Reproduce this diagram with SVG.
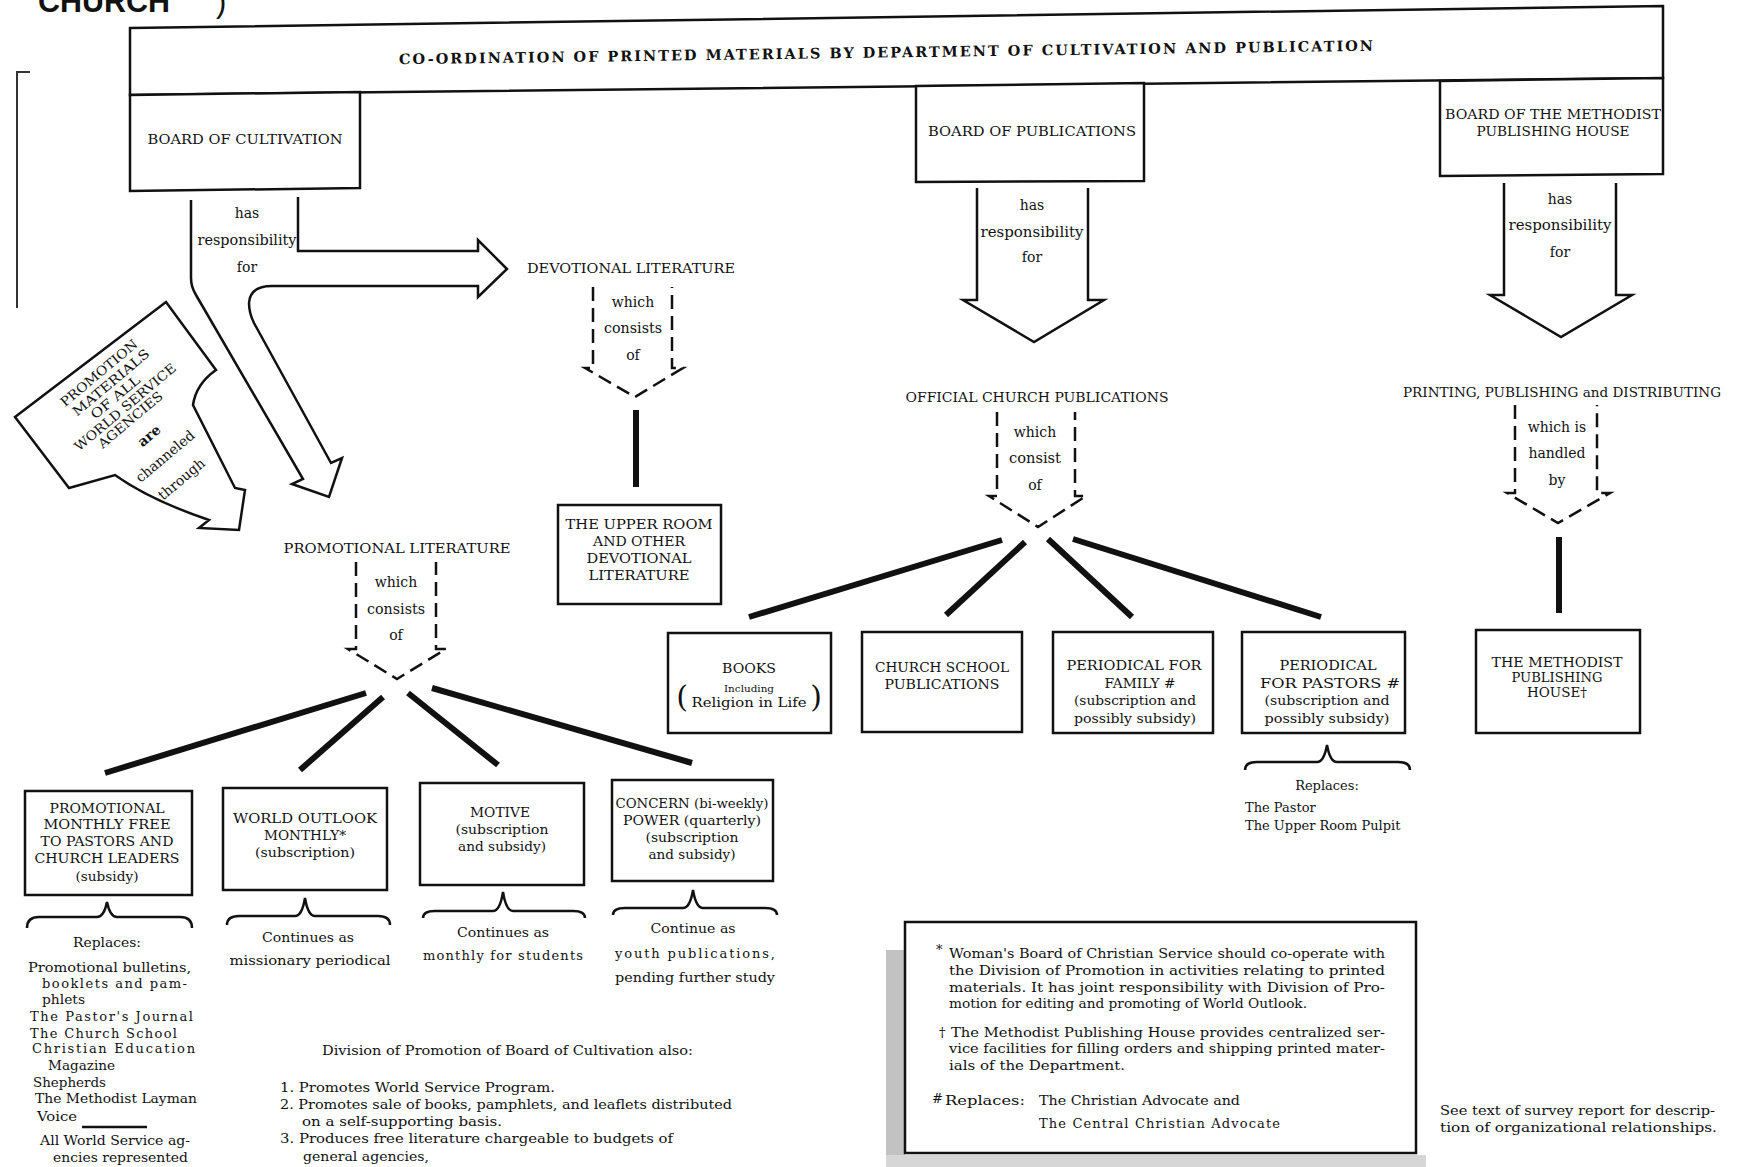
<svg xmlns="http://www.w3.org/2000/svg" width="1739" height="1167" viewBox="0 0 1739 1167">
<style>
text{font-family:"DejaVu Serif","Liberation Serif",serif;fill:#111;dominant-baseline:central}
.c{text-anchor:middle}
.cap{font-size:13px}
.lab{font-size:14px}
.txt{font-size:13px}
.box{fill:#fff;stroke:#111;stroke-width:2.5}
.ln{fill:none;stroke:#111;stroke-width:2.5;stroke-linejoin:miter}
.dash{fill:none;stroke:#111;stroke-width:2.5;stroke-dasharray:14 7}
.thick{stroke:#111;stroke-width:6}
.brace{fill:none;stroke:#111;stroke-width:2.5}
</style>
<rect width="1739" height="1167" fill="#fff"/>

<!-- cut-off heading -->
<g id="heading">
<text x="38" y="1" font-weight="bold" font-size="31" textLength="132" lengthAdjust="spacingAndGlyphs" style="font-family:'Liberation Sans',sans-serif">CHURCH</text>
<text x="216" y="1" font-size="31" style="font-family:'Liberation Sans',sans-serif">)</text>
</g>

<!-- left bracket -->
<path d="M30,72 L17,72 L17,308" fill="none" stroke="#333" stroke-width="2"/>

<!-- banner -->
<g id="banner">
<polygon class="box" points="130,28 1663,6 1663,78 130,95"/>
<text x="886" y="52" class="c" font-weight="bold" font-size="14.5" textLength="974" lengthAdjust="spacing" transform="rotate(-0.8 886 52)">CO-ORDINATION OF PRINTED MATERIALS BY DEPARTMENT OF CULTIVATION AND PUBLICATION</text>
</g>

<g id="board-cultivation">
<polygon class="box" points="130,95 360,92 360,188 130,191"/>
<text x="245" y="139" class="c cap" textLength="195" lengthAdjust="spacingAndGlyphs">BOARD OF CULTIVATION</text>
</g>
<g id="board-publications">
<polygon class="box" points="916,86 1144,83 1144,181 916,182"/>
<text x="1032" y="131" class="c cap" textLength="208" lengthAdjust="spacingAndGlyphs">BOARD OF PUBLICATIONS</text>
</g>
<g id="board-mph">
<polygon class="box" points="1440,81 1663,78 1663,174 1440,176"/>
<text x="1553" y="114" class="c cap" textLength="216" lengthAdjust="spacingAndGlyphs">BOARD OF THE METHODIST</text>
<text x="1553" y="131" class="c cap" textLength="153" lengthAdjust="spacingAndGlyphs">PUBLISHING HOUSE</text>
</g>

<!-- promotion materials channel -->
<g id="promotion-materials">
<path class="ln" fill="#fff" d="M15,417 L166,302 L216,370 Q196,384 193,405 L235,488 L245,490 L239,530 L199,528 L209,520 Q150,500 115,475 L69,488 Z"/>
<g transform="translate(99,373) rotate(-40)">
<text x="0" y="0" class="c cap" textLength="96" lengthAdjust="spacingAndGlyphs">PROMOTION</text>
<text x="3" y="15" class="c cap" textLength="96" lengthAdjust="spacingAndGlyphs">MATERIALS</text>
<text x="-3" y="29" class="c cap" textLength="60" lengthAdjust="spacingAndGlyphs">OF ALL</text>
<text x="-2" y="43" class="c cap" textLength="128" lengthAdjust="spacingAndGlyphs">WORLD SERVICE</text>
<text x="-6" y="56" class="c cap" textLength="80" lengthAdjust="spacingAndGlyphs">AGENCIES</text>
<text x="-2" y="80" class="c lab" font-weight="bold">are</text>
<text x="-3" y="106" class="c lab" textLength="72" lengthAdjust="spacingAndGlyphs">channeled</text>
<text x="-5" y="134" class="c lab" textLength="56" lengthAdjust="spacingAndGlyphs">through</text>
</g>
</g>

<!-- labels -->
<g id="devotional-literature">
<text x="631" y="268" class="c cap" textLength="208" lengthAdjust="spacingAndGlyphs">DEVOTIONAL LITERATURE</text>
</g>
<g id="promotional-literature">
<text x="397" y="548" class="c cap" textLength="227" lengthAdjust="spacingAndGlyphs">PROMOTIONAL LITERATURE</text>
</g>
<g id="official-church-publications">
<text x="1037" y="397" class="c cap" textLength="263" lengthAdjust="spacingAndGlyphs">OFFICIAL CHURCH PUBLICATIONS</text>
</g>
<g id="printing-publishing">
<text x="1562" y="392" class="c cap" textLength="318" lengthAdjust="spacingAndGlyphs">PRINTING, PUBLISHING and DISTRIBUTING</text>
</g>

<!-- connectors -->
<g id="connectors">
<path class="ln" d="M191,200 L191,278 Q191,287 196,295 L303,479 L292,484 L329,497 L342,458 L331,463 L254,323 Q249,313 249,303 Q250,286 272,286 L478,286 L478,297 L507,269 L478,240 L478,251 L298,251 L298,197"/>
<text x="247" y="213" class="c lab">has</text>
<text x="247" y="240" class="c lab" textLength="99" lengthAdjust="spacingAndGlyphs">responsibility</text>
<text x="247" y="267" class="c lab">for</text>

<path class="ln" d="M977,188 L977,300 L963,300 L1034,342 L1104,300 L1088,300 L1088,188"/>
<text x="1032" y="205" class="c lab">has</text>
<text x="1032" y="232" class="c lab" textLength="103" lengthAdjust="spacingAndGlyphs">responsibility</text>
<text x="1032" y="257" class="c lab">for</text>

<path class="ln" d="M1504,183 L1504,295 L1490,295 L1561,337 L1632,295 L1616,295 L1616,183"/>
<text x="1560" y="199" class="c lab">has</text>
<text x="1560" y="225" class="c lab" textLength="103" lengthAdjust="spacingAndGlyphs">responsibility</text>
<text x="1560" y="252" class="c lab">for</text>

<path class="dash" d="M593,287 L593,368 L585,368 L635,397 L683,368 L672,368 L672,287"/>
<text x="633" y="302" class="c lab">which</text>
<text x="633" y="328" class="c lab" textLength="58" lengthAdjust="spacingAndGlyphs">consists</text>
<text x="633" y="355" class="c lab">of</text>
<line class="thick" x1="636" y1="410" x2="636" y2="487"/>

<path class="dash" d="M356,562 L356,649 L348,649 L397,679 L446,649 L436,649 L436,562"/>
<text x="396" y="582" class="c lab">which</text>
<text x="396" y="609" class="c lab" textLength="58" lengthAdjust="spacingAndGlyphs">consists</text>
<text x="396" y="635" class="c lab">of</text>

<path class="dash" d="M997,412 L997,496 L989,496 L1038,527 L1086,496 L1075,496 L1075,412"/>
<text x="1035" y="432" class="c lab">which</text>
<text x="1035" y="458" class="c lab" textLength="52" lengthAdjust="spacingAndGlyphs">consist</text>
<text x="1035" y="485" class="c lab">of</text>

<path class="dash" d="M1515,405 L1515,493 L1507,493 L1558,523 L1610,493 L1597,493 L1597,405"/>
<text x="1557" y="427" class="c lab">which is</text>
<text x="1557" y="453" class="c lab">handled</text>
<text x="1557" y="480" class="c lab">by</text>
<line class="thick" x1="1559" y1="537" x2="1559" y2="613"/>

<line class="thick" x1="1002" y1="540" x2="749" y2="617"/>
<line class="thick" x1="1025" y1="542" x2="946" y2="615"/>
<line class="thick" x1="1048" y1="539" x2="1132" y2="617"/>
<line class="thick" x1="1073" y1="539" x2="1321" y2="617"/>

<line class="thick" x1="366" y1="693" x2="105" y2="773"/>
<line class="thick" x1="383" y1="697" x2="300" y2="770"/>
<line class="thick" x1="408" y1="693" x2="498" y2="765"/>
<line class="thick" x1="432" y1="688" x2="692" y2="763"/>
</g>

<!-- devotional box -->
<g id="upper-room">
<rect class="box" x="558" y="505" width="163" height="99"/>
<text x="639" y="524" class="c cap" textLength="147" lengthAdjust="spacingAndGlyphs">THE UPPER ROOM</text>
<text x="639" y="541" class="c cap" textLength="92" lengthAdjust="spacingAndGlyphs">AND OTHER</text>
<text x="639" y="558" class="c cap" textLength="105" lengthAdjust="spacingAndGlyphs">DEVOTIONAL</text>
<text x="639" y="575" class="c cap" textLength="101" lengthAdjust="spacingAndGlyphs">LITERATURE</text>
</g>

<!-- official publications boxes -->
<g id="books">
<rect class="box" x="668" y="633" width="163" height="100"/>
<text x="749" y="668" class="c cap" textLength="54" lengthAdjust="spacingAndGlyphs">BOOKS</text>
<text x="749" y="688" class="c" font-size="10" textLength="50" lengthAdjust="spacingAndGlyphs">Including</text>
<text x="749" y="703" class="c" font-size="12" textLength="115" lengthAdjust="spacingAndGlyphs">Religion in Life</text>
<text x="682" y="696" class="c" font-size="30">(</text>
<text x="816" y="696" class="c" font-size="30">)</text>
</g>
<g id="church-school">
<rect class="box" x="862" y="632" width="160" height="100"/>
<text x="942" y="667" class="c cap" textLength="134" lengthAdjust="spacingAndGlyphs">CHURCH SCHOOL</text>
<text x="942" y="684" class="c cap" textLength="115" lengthAdjust="spacingAndGlyphs">PUBLICATIONS</text>
</g>
<g id="periodical-family">
<rect class="box" x="1053" y="632" width="160" height="101"/>
<text x="1134" y="665" class="c cap" textLength="135" lengthAdjust="spacingAndGlyphs">PERIODICAL FOR</text>
<text x="1140" y="683" class="c cap" textLength="71" lengthAdjust="spacingAndGlyphs">FAMILY  #</text>
<text x="1135" y="700" class="c txt" textLength="122" lengthAdjust="spacingAndGlyphs">(subscription and</text>
<text x="1135" y="718" class="c txt" textLength="122" lengthAdjust="spacingAndGlyphs">possibly subsidy)</text>
</g>
<g id="periodical-pastors">
<rect class="box" x="1242" y="632" width="163" height="101"/>
<text x="1328" y="665" class="c cap" textLength="97" lengthAdjust="spacingAndGlyphs">PERIODICAL</text>
<text x="1330" y="683" class="c cap" textLength="140" lengthAdjust="spacingAndGlyphs">FOR PASTORS #</text>
<text x="1327" y="700" class="c txt" textLength="125" lengthAdjust="spacingAndGlyphs">(subscription and</text>
<text x="1327" y="718" class="c txt" textLength="125" lengthAdjust="spacingAndGlyphs">possibly subsidy)</text>
<path class="brace" d="M1245,770 Q1245,762 1257,762 L1317,762 Q1324,762 1327,745 Q1330,762 1337,762 L1398,762 Q1410,762 1410,770"/>
<text x="1327" y="785" class="c txt">Replaces:</text>
<text x="1245" y="807" class="txt">The Pastor</text>
<text x="1245" y="825" class="txt">The Upper Room Pulpit</text>
</g>
<g id="methodist-publishing-house">
<rect class="box" x="1476" y="630" width="164" height="103"/>
<text x="1557" y="662" class="c cap" textLength="131" lengthAdjust="spacingAndGlyphs">THE METHODIST</text>
<text x="1557" y="677" class="c cap" textLength="91" lengthAdjust="spacingAndGlyphs">PUBLISHING</text>
<text x="1557" y="692" class="c cap" textLength="60" lengthAdjust="spacingAndGlyphs">HOUSE†</text>
</g>

<!-- promotional boxes -->
<g id="promotional-monthly">
<rect class="box" x="25" y="791" width="167" height="104"/>
<text x="107" y="808" class="c cap" textLength="115" lengthAdjust="spacingAndGlyphs">PROMOTIONAL</text>
<text x="107" y="824" class="c cap" textLength="127" lengthAdjust="spacingAndGlyphs">MONTHLY FREE</text>
<text x="107" y="841" class="c cap" textLength="133" lengthAdjust="spacingAndGlyphs">TO PASTORS AND</text>
<text x="107" y="858" class="c cap" textLength="145" lengthAdjust="spacingAndGlyphs">CHURCH LEADERS</text>
<text x="107" y="876" class="c txt" textLength="63" lengthAdjust="spacingAndGlyphs">(subsidy)</text>
<path class="brace" d="M27,928 Q27,917 39,917 L97,917 Q104,917 107,902 Q110,917 117,917 L180,917 Q192,917 192,928"/>
<text x="107" y="942" class="c txt" textLength="68" lengthAdjust="spacingAndGlyphs">Replaces:</text>
<text x="28" y="967" class="txt" textLength="163" lengthAdjust="spacingAndGlyphs">Promotional bulletins,</text>
<text x="42" y="983" class="txt" textLength="145" lengthAdjust="spacing">booklets  and  pam-</text>
<text x="42" y="999" class="txt" textLength="43" lengthAdjust="spacingAndGlyphs">phlets</text>
<text x="30" y="1016" class="txt" textLength="163" lengthAdjust="spacing">The  Pastor's  Journal</text>
<text x="30" y="1033" class="txt" textLength="147" lengthAdjust="spacing">The  Church  School</text>
<text x="32" y="1048" class="txt" textLength="163" lengthAdjust="spacing">Christian Education</text>
<text x="48" y="1065" class="txt" textLength="67" lengthAdjust="spacingAndGlyphs">Magazine</text>
<text x="33" y="1082" class="txt" textLength="73" lengthAdjust="spacingAndGlyphs">Shepherds</text>
<text x="35" y="1098" class="txt" textLength="162" lengthAdjust="spacingAndGlyphs">The Methodist Layman</text>
<text x="37" y="1116" class="txt" textLength="40" lengthAdjust="spacingAndGlyphs">Voice</text>
<line x1="82" y1="1127" x2="147" y2="1127" stroke="#111" stroke-width="2.5"/>
<text x="40" y="1140" class="txt" textLength="150" lengthAdjust="spacingAndGlyphs">All World Service ag-</text>
<text x="53" y="1157" class="txt" textLength="135" lengthAdjust="spacingAndGlyphs">encies represented</text>
</g>
<g id="world-outlook">
<rect class="box" x="223" y="788" width="164" height="102"/>
<text x="305" y="818" class="c cap" textLength="144" lengthAdjust="spacingAndGlyphs">WORLD OUTLOOK</text>
<text x="305" y="835" class="c cap" textLength="82" lengthAdjust="spacingAndGlyphs">MONTHLY*</text>
<text x="305" y="852" class="c txt" textLength="100" lengthAdjust="spacingAndGlyphs">(subscription)</text>
<path class="brace" d="M227,925 Q227,916 239,916 L295,916 Q302,916 305,898 Q308,916 315,916 L378,916 Q390,916 390,925"/>
<text x="308" y="937" class="c txt" textLength="92" lengthAdjust="spacingAndGlyphs">Continues as</text>
<text x="310" y="960" class="c txt" textLength="161" lengthAdjust="spacingAndGlyphs">missionary periodical</text>
</g>
<g id="motive">
<rect class="box" x="420" y="783" width="164" height="102"/>
<text x="500" y="812" class="c cap" textLength="60" lengthAdjust="spacingAndGlyphs">MOTIVE</text>
<text x="502" y="829" class="c txt" textLength="93" lengthAdjust="spacingAndGlyphs">(subscription</text>
<text x="502" y="846" class="c txt" textLength="88" lengthAdjust="spacingAndGlyphs">and subsidy)</text>
<path class="brace" d="M423,918 Q423,911 435,911 L493,911 Q500,911 503,892 Q506,911 513,911 L573,911 Q585,911 585,918"/>
<text x="503" y="932" class="c txt" textLength="92" lengthAdjust="spacingAndGlyphs">Continues as</text>
<text x="503" y="955" class="c txt" textLength="160" lengthAdjust="spacing">monthly  for  students</text>
</g>
<g id="concern-power">
<rect class="box" x="612" y="780" width="161" height="101"/>
<text x="692" y="803" class="c txt" textLength="153" lengthAdjust="spacingAndGlyphs">CONCERN (bi-weekly)</text>
<text x="692" y="820" class="c txt" textLength="138" lengthAdjust="spacingAndGlyphs">POWER (quarterly)</text>
<text x="692" y="837" class="c txt" textLength="93" lengthAdjust="spacingAndGlyphs">(subscription</text>
<text x="692" y="854" class="c txt" textLength="87" lengthAdjust="spacingAndGlyphs">and subsidy)</text>
<path class="brace" d="M613,915 Q613,908 625,908 L683,908 Q690,908 693,890 Q696,908 703,908 L765,908 Q777,908 777,915"/>
<text x="693" y="928" class="c txt" textLength="85" lengthAdjust="spacingAndGlyphs">Continue as</text>
<text x="695" y="953" class="c txt" textLength="160" lengthAdjust="spacing">youth  publications,</text>
<text x="695" y="977" class="c txt" textLength="160" lengthAdjust="spacingAndGlyphs">pending further study</text>
</g>

<!-- division note -->
<g id="division-note">
<text x="322" y="1050" class="txt" textLength="371" lengthAdjust="spacingAndGlyphs">Division of Promotion of Board of Cultivation also:</text>
<text x="280" y="1087" class="txt" textLength="275" lengthAdjust="spacingAndGlyphs">1. Promotes World Service Program.</text>
<text x="280" y="1104" class="txt" textLength="452" lengthAdjust="spacingAndGlyphs">2. Promotes sale of books, pamphlets, and leaflets distributed</text>
<text x="302" y="1121" class="txt" textLength="200" lengthAdjust="spacingAndGlyphs">on a self-supporting basis.</text>
<text x="280" y="1138" class="txt" textLength="393" lengthAdjust="spacingAndGlyphs">3. Produces free literature chargeable to budgets of</text>
<text x="303" y="1156" class="txt" textLength="126" lengthAdjust="spacingAndGlyphs">general agencies,</text>
</g>

<!-- footnotes -->
<g id="footnotes">
<rect x="886" y="950" width="19" height="217" fill="#c2c2c2"/>
<rect x="886" y="1155" width="540" height="12" fill="#d6d6d6"/>
<rect class="box" x="905" y="922" width="511" height="231"/>
<text x="936" y="949" class="txt">*</text>
<text x="949" y="953" class="txt" textLength="436" lengthAdjust="spacingAndGlyphs">Woman's Board of Christian Service should co-operate with</text>
<text x="949" y="970" class="txt" textLength="436" lengthAdjust="spacingAndGlyphs">the Division of Promotion in activities relating to printed</text>
<text x="949" y="987" class="txt" textLength="436" lengthAdjust="spacingAndGlyphs">materials.  It has joint responsibility with Division of Pro-</text>
<text x="949" y="1003" class="txt" textLength="358" lengthAdjust="spacingAndGlyphs">motion for editing and promoting of World Outlook.</text>
<text x="939" y="1032" class="txt">†</text>
<text x="951" y="1032" class="txt" textLength="434" lengthAdjust="spacingAndGlyphs">The Methodist Publishing House provides centralized ser-</text>
<text x="949" y="1048" class="txt" textLength="436" lengthAdjust="spacingAndGlyphs">vice facilities for filling orders and shipping printed mater-</text>
<text x="949" y="1065" class="txt" textLength="176" lengthAdjust="spacingAndGlyphs">ials of the Department.</text>
<text x="932" y="1098" class="txt" font-size="11">#</text>
<text x="945" y="1100" class="txt" textLength="80" lengthAdjust="spacingAndGlyphs">Replaces:</text>
<text x="1039" y="1100" class="txt" textLength="201" lengthAdjust="spacingAndGlyphs">The Christian Advocate  and</text>
<text x="1039" y="1123" class="txt" textLength="241" lengthAdjust="spacing">The  Central  Christian  Advocate</text>
</g>

<g id="survey-note">
<text x="1440" y="1111" font-size="12" fill="#333" textLength="275" lengthAdjust="spacingAndGlyphs">See text of survey report for descrip-</text>
<text x="1440" y="1128" font-size="12" fill="#333" textLength="277" lengthAdjust="spacingAndGlyphs">tion of organizational relationships.</text>
</g>
</svg>
